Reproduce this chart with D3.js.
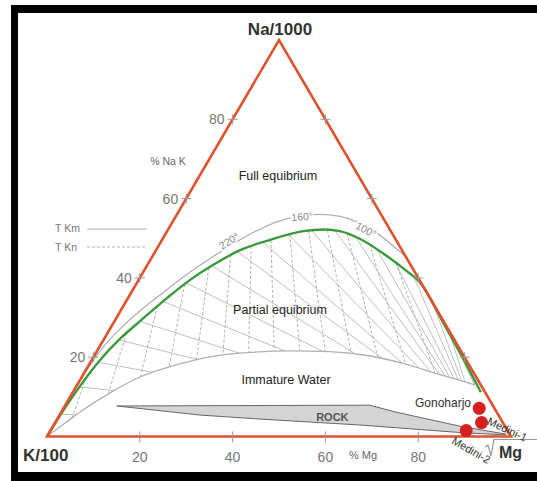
<!DOCTYPE html>
<html><head><meta charset="utf-8">
<script src="https://cdn.jsdelivr.net/npm/d3@7"></script>
<style>body{margin:0;background:#fff}svg{display:block;font-family:Arial,"Liberation Sans",sans-serif}</style>
</head><body><svg id="c" width="537" height="481"></svg>
<script>
// ---------- DATA (ternary: [Na %, Mg %], K = 100 - Na - Mg) ----------
const naTicks = [20, 40, 60, 80];
const mgTicks = [20, 40, 60, 80];
const fullEquilibriumCurve = [[0,0],[6.4,0],[12.5,0],[18.0,0.25],[23.1,0.96],[27.4,2.3],[31.7,4.2],[35.7,6.5],[40.0,9.1],[44.0,12.0],[48.1,15.4],[51.7,19.0],[54.4,23.0],[55.6,26.7],[56.0,30.8],[55.5,35.4],[54.1,39.8],[51.6,44.9],[48.3,50.2],[44.8,55.2],[39.2,60.7],[29.4,70.4],[20.8,78.6],[13.0,85.7]];
const greenCurve = [[0,0],[6.4,0.23],[12.7,0.76],[19.3,1.8],[24.6,3.4],[29.1,5.5],[34.9,8.4],[39.5,11.1],[43.3,14.2],[47.0,18.1],[49.6,23.3],[51.8,29.3],[52.2,33.8],[51.8,37.2],[49.8,42.6],[45.5,50.5],[41.7,56.7],[39.0,60.8],[27.4,72.3],[18.8,80.7],[11.2,87.9]];
const immatureCurve = [[0,0],[3.4,2.2],[6.7,4.4],[11.0,8.1],[15.0,12.5],[18.0,18.6],[20.1,25.1],[21.2,33.2],[21.6,41.6],[21.4,50.3],[20.3,59.5],[18.3,68.0],[16.0,75.6],[14.3,81.5],[13.0,85.7]];
const rockField = [[7.7,11.2],[7.9,65.6],[6.2,71.9],[2.6,87.7],[0.6,98.6],[0.4,98.7],[1.0,88.5],[2.9,66.0],[4.4,43.7],[5.4,30.3]];
const sampleNames = ["Gonoharjo", "Medini-1", "Medini-2"];
const sampleNa = [7.1, 3.5, 1.5];
const sampleMg = [89.6, 91.9, 89.6];
// isotherm families
const kmStartMg = [3, 7, 11, 15.5, 20, 25, 30, 35.5, 41, 46.5, 52, 57, 62, 66.5, 71, 75, 79, 83, 87]; // chart x (%) where solid lines leave the green curve
const kmFocus = [1.6, 92.5];
const knBaseX = [4, 10.5, 17, 23.5, 30, 36.5, 43, 49.5, 56, 62.5, 69, 75.5, 82, 88.5];
const knFocus = [140, -24];
const isoLabels = ["220°", "160°", "100°"];
const isoLabelPos = [[49.3, 14.6], [55.4, 27.3], [52.1, 42.7]];

// ---------- SCALES ----------
const svg = d3.select("#c");
const xS = d3.scaleLinear().domain([0, 100]).range([47, 511]);
const yS = d3.scaleLinear().domain([0, 100]).range([436.5, 40]);
const proj = ([na, mg]) => [xS(mg + na / 2), yS(na)];

svg.append("rect").attr("width", 537).attr("height", 481).attr("fill", "#fff");

const line = d3.line().x(d => proj(d)[0]).y(d => proj(d)[1]).curve(d3.curveMonotoneX);

const gIso = svg.append("g");
const gCurves = svg.append("g");
const fullPath = gCurves.append("path").attr("d", line(fullEquilibriumCurve)).attr("fill", "none").attr("stroke", "#b0b0b0").attr("stroke-width", 1.3);
const immPath = gCurves.append("path").attr("d", line(immatureCurve)).attr("fill", "none").attr("stroke", "#b0b0b0").attr("stroke-width", 1.3);
const greenPath = svg.append("path").attr("d", line(greenCurve)).attr("fill", "none").attr("stroke", "#3a9a3a").attr("stroke-width", 2.4);

function fnOf(node) {
  const L = node.getTotalLength(), pts = [];
  for (let i = 0; i <= 800; i++) { const p = node.getPointAtLength(L * i / 800); pts.push([p.x, p.y]); }
  pts.sort((a, b) => a[0] - b[0]);
  const bis = d3.bisector(d => d[0]).left;
  return x => {
    if (x < pts[0][0] || x > pts[pts.length - 1][0]) return NaN;
    const i = Math.max(1, bis(pts, x));
    const a = pts[i - 1], b = pts[i];
    const t = (x - a[0]) / ((b[0] - a[0]) || 1);
    return a[1] + t * (b[1] - a[1]);
  };
}
const upperY = fnOf(greenPath.node());
const lowerY = fnOf(immPath.node());

// solid (T Km) lines
const F = proj(kmFocus);
kmStartMg.forEach(X => {
  const x0 = xS(X), y0 = upperY(x0);
  let end = null;
  for (let t = 0; t <= 1; t += 0.002) {
    const x = x0 + t * (F[0] - x0), y = y0 + t * (F[1] - y0);
    const ly = lowerY(x);
    if (isNaN(ly) || y > ly) break;
    end = [x, y];
  }
  if (end) gIso.append("line").attr("x1", x0).attr("y1", y0).attr("x2", end[0]).attr("y2", end[1])
    .attr("stroke", "#b8b8b8").attr("stroke-width", 0.9);
});
// dashed (T Kn) lines
const FD = proj(knFocus);
knBaseX.forEach(X => {
  const B = [xS(X), yS(0)];
  let first = null, last = null;
  for (let t = 0; t <= 1; t += 0.001) {
    const x = FD[0] + t * (B[0] - FD[0]), y = FD[1] + t * (B[1] - FD[1]);
    const uy = upperY(x), ly = lowerY(x);
    const ok = !isNaN(uy) && !isNaN(ly) && y >= uy && y <= ly;
    if (ok) { if (!first) first = [x, y]; last = [x, y]; }
    else if (first) break;
  }
  if (first) gIso.append("line").attr("x1", first[0]).attr("y1", first[1]).attr("x2", last[0]).attr("y2", last[1])
    .attr("stroke", "#a8a8a8").attr("stroke-width", 0.9).attr("stroke-dasharray", "3,2");
});

// rock field
svg.append("path").attr("d", d3.line().x(d => proj(d)[0]).y(d => proj(d)[1])(rockField) + "Z")
  .attr("fill", "#d4d4d4").attr("stroke", "#666").attr("stroke-width", 1);
svg.append("text").attr("x", xS(61.5)).attr("y", yS(4)).attr("text-anchor", "middle")
  .attr("font-size", 11).attr("font-weight", "bold").attr("fill", "#555").text("ROCK");

// triangle
const tri = [[0, 0], [100, 0], [0, 100]];
svg.append("path").attr("d", d3.line().x(d => proj(d)[0]).y(d => proj(d)[1])(tri) + "Z")
  .attr("fill", "none").attr("stroke", "#e0522d").attr("stroke-width", 2.6).attr("stroke-linejoin", "miter");

// ticks
const tk = svg.append("g").attr("stroke", "#999").attr("stroke-width", 1);
naTicks.forEach(v => {
  [[v, 0], [v, 100 - v]].forEach(p => {
    const [x, y] = proj(p);
    tk.append("line").attr("x1", x - 5).attr("x2", x + 5).attr("y1", y).attr("y2", y);
    tk.append("line").attr("x1", x).attr("x2", x).attr("y1", y - 5).attr("y2", y + 5);
  });
  const [x, y] = proj([v, 0]);
  svg.append("text").attr("x", x - 8).attr("y", y).attr("dy", "0.36em").attr("text-anchor", "end")
    .attr("font-size", 14).attr("fill", "#777").text(v);
});
mgTicks.forEach(v => {
  const x = xS(v), y = yS(0);
  tk.append("line").attr("x1", x).attr("x2", x).attr("y1", y - 5).attr("y2", y + 6);
  svg.append("text").attr("x", x).attr("y", y + 25).attr("text-anchor", "middle")
    .attr("font-size", 14).attr("fill", "#777").text(v);
});

// isotherm labels
isoLabels.forEach((t, i) => {
  const [x, y] = proj(isoLabelPos[i]);
  const rot = [-33, -4, 28][i];
  svg.append("text").attr("transform", `translate(${x},${y}) rotate(${rot})`).attr("text-anchor", "middle").attr("dy", "0.35em")
    .attr("font-size", 10.5).attr("fill", "#888").attr("stroke", "#fff").attr("stroke-width", 3).attr("paint-order", "stroke").text(t);
});

// axis titles
svg.append("text").attr("x", 280).attr("y", 35).attr("text-anchor", "middle").attr("font-size", 17).attr("font-weight", "bold").attr("fill", "#333").text("Na/1000");
svg.append("text").attr("x", 23).attr("y", 461).attr("font-size", 17).attr("font-weight", "bold").attr("fill", "#333").text("K/100");
svg.append("text").attr("x", 499).attr("y", 458).attr("font-size", 16).attr("font-weight", "bold").attr("fill", "#333").text("Mg");
svg.append("path").attr("d", "M485,447 L488,445 L491,456 L494,439.5 L537,439.5").attr("fill", "none").attr("stroke", "#999").attr("stroke-width", 1.2);
svg.append("text").attr("x", 168).attr("y", 161).attr("dy", "0.35em").attr("text-anchor", "middle").attr("font-size", 10.5).attr("fill", "#666").text("% Na K");
svg.append("text").attr("x", 349).attr("y", 459).attr("font-size", 11).attr("fill", "#666").text("% Mg");

// legend
svg.append("text").attr("x", 55).attr("y", 232).attr("font-size", 10.5).attr("fill", "#777").text("T Km");
svg.append("line").attr("x1", 87).attr("x2", 147).attr("y1", 229).attr("y2", 229).attr("stroke", "#aaa").attr("stroke-width", 0.9);
svg.append("text").attr("x", 55).attr("y", 251).attr("font-size", 10.5).attr("fill", "#777").text("T Kn");
svg.append("line").attr("x1", 87).attr("x2", 147).attr("y1", 247).attr("y2", 247).attr("stroke", "#aaa").attr("stroke-width", 0.9).attr("stroke-dasharray", "3,2");

// region labels
const reg = [["Full equibrium", 278, 180], ["Partial equibrium", 280, 314], ["Immature Water", 286, 384]];
reg.forEach(r => svg.append("text").attr("x", r[1]).attr("y", r[2]).attr("text-anchor", "middle").attr("font-size", 12.5).attr("fill", "#222").text(r[0]));

// samples
const samples = sampleNames.map((n, i) => ({ n, na: sampleNa[i], mg: sampleMg[i] }));
svg.selectAll("circle.s").data(samples).join("circle").attr("class", "s")
  .attr("cx", d => proj([d.na, d.mg])[0]).attr("cy", d => proj([d.na, d.mg])[1]).attr("r", 6.5).attr("fill", "#d62020");
const lab = [[415, 407, 0], [486.6, 424, 25], [451, 443, 30]];
samples.forEach((d, i) => {
  svg.append("text").attr("transform", `translate(${lab[i][0]},${lab[i][1]}) rotate(${lab[i][2]})`)
    .attr("font-size", i === 0 ? 12 : 11).attr("fill", "#333").text(d.n);
});

// black frame
svg.append("rect").attr("x", 11).attr("y", 5).attr("width", 526).attr("height", 8).attr("fill", "#000");
svg.append("rect").attr("x", 11).attr("y", 5).attr("width", 7).attr("height", 476).attr("fill", "#000");
svg.append("rect").attr("x", 11).attr("y", 472).attr("width", 526).attr("height", 9).attr("fill", "#000");
</script></body></html>
